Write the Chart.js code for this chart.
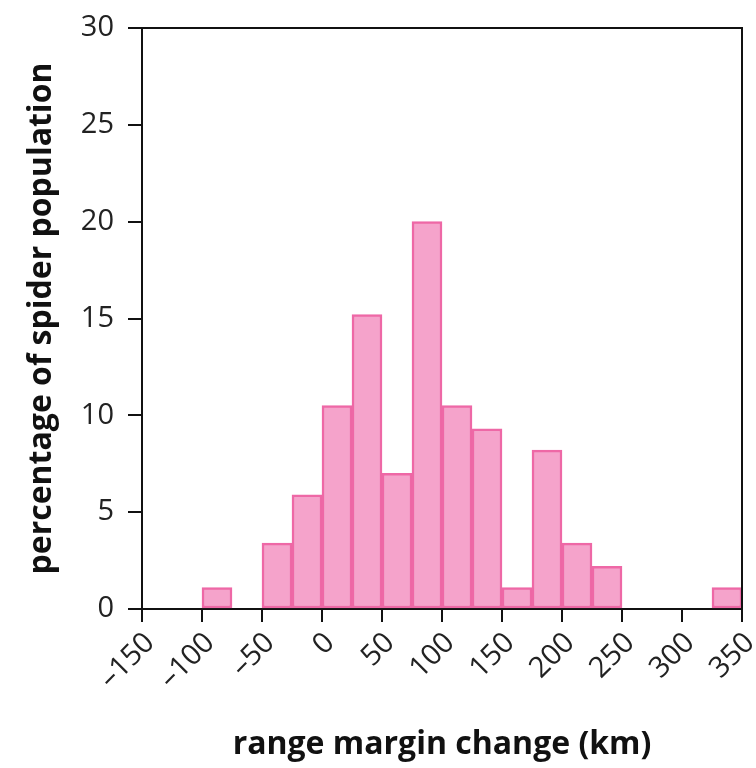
<!DOCTYPE html>
<html>
<head>
<meta charset="utf-8">
<script src="https://cdn.jsdelivr.net/npm/chart.js@4"></script>
<style>
  html, body { margin: 0; padding: 0; background: #fff; }
  #wrap { width: 756px; height: 768px; }
</style>
</head>
<body>
<div id="wrap"><canvas id="hist"></canvas></div>
<script>
// histogram bins (km), start edge of each non-empty bin, width 25
const binStarts = [-100, -50, -25, 0, 25, 50, 75, 100, 125, 150, 175, 200, 225, 325];
const binWidth = 25;
const percentages = [1.1, 3.4, 5.9, 10.5, 15.2, 7.0, 20, 10.5, 9.3, 1.1, 8.2, 3.4, 2.2, 1.1];
const xTicks = [-150, -100, -50, 0, 50, 100, 150, 200, 250, 300, 350];
const yTicks = [0, 5, 10, 15, 20, 25, 30];

const FONT = "'Open Sans', 'Noto Sans', sans-serif";

const frame = {
  id: "frame",
  afterDraw(chart) {
    const { ctx, chartArea: a } = chart;
    ctx.save();
    ctx.strokeStyle = "#111";
    ctx.lineWidth = 2;
    ctx.beginPath();
    ctx.moveTo(a.left, a.top);
    ctx.lineTo(a.right, a.top);
    ctx.lineTo(a.right, a.bottom);
    ctx.stroke();
    ctx.restore();
  },
};

const ctx = document.getElementById("hist").getContext("2d");
new Chart(ctx, {
  type: "bar",
  data: {
    datasets: [{
      data: binStarts.map((s, i) => ({ x: s + binWidth / 2, y: percentages[i] })),
      backgroundColor: "#f5a3cb",
      borderColor: "#ee68a6",
      borderWidth: 2.5,
      borderSkipped: false,
      barPercentage: 1,
      categoryPercentage: 1,
    }],
  },
  plugins: [frame],
  options: {
    responsive: true,
    maintainAspectRatio: false,
    animation: false,
    layout: { padding: { top: 28, right: 14, left: 0, bottom: 0 } },
    plugins: { legend: { display: false }, tooltip: { enabled: false } },
    scales: {
      x: {
        type: "linear",
        offset: false,
        min: -150,
        max: 350,
        afterBuildTicks: s => { s.ticks = xTicks.map(v => ({ value: v })); },
        afterFit: s => { s.height = 159; s.paddingLeft = 0; s.paddingRight = 0; },
        ticks: {
          color: "#222",
          font: { family: FONT, size: 29 },
          minRotation: 45,
          maxRotation: 45,
          padding: 4,
          labelOffset: 8,
          callback: v => String(v).replace("-", "\u2013"),
        },
        grid: { offset: false, drawOnChartArea: false, tickLength: 13, color: "#111", lineWidth: 2 },
        border: { color: "#111", width: 2 },
        title: {
          display: true,
          text: "range margin change (km)",
          color: "#111",
          font: { family: FONT, size: 32, weight: "bold" },
          padding: { top: 10, bottom: 4 },
        },
      },
      y: {
        min: 0,
        max: 30,
        afterBuildTicks: s => { s.ticks = yTicks.map(v => ({ value: v })); },
        afterFit: s => { s.width = 142; s.paddingTop = 0; s.paddingBottom = 0; },
        ticks: {
          color: "#222",
          font: { family: FONT, size: 29 },
          padding: 14,
        },
        grid: { drawOnChartArea: false, tickLength: 14, color: "#111", lineWidth: 2 },
        border: { color: "#111", width: 2 },
        title: {
          display: true,
          text: "percentage of spider population",
          color: "#111",
          font: { family: FONT, size: 32, weight: "bold" },
          padding: { top: 23, bottom: 0 },
        },
      },
    },
  },
});
</script>
</body>
</html>
